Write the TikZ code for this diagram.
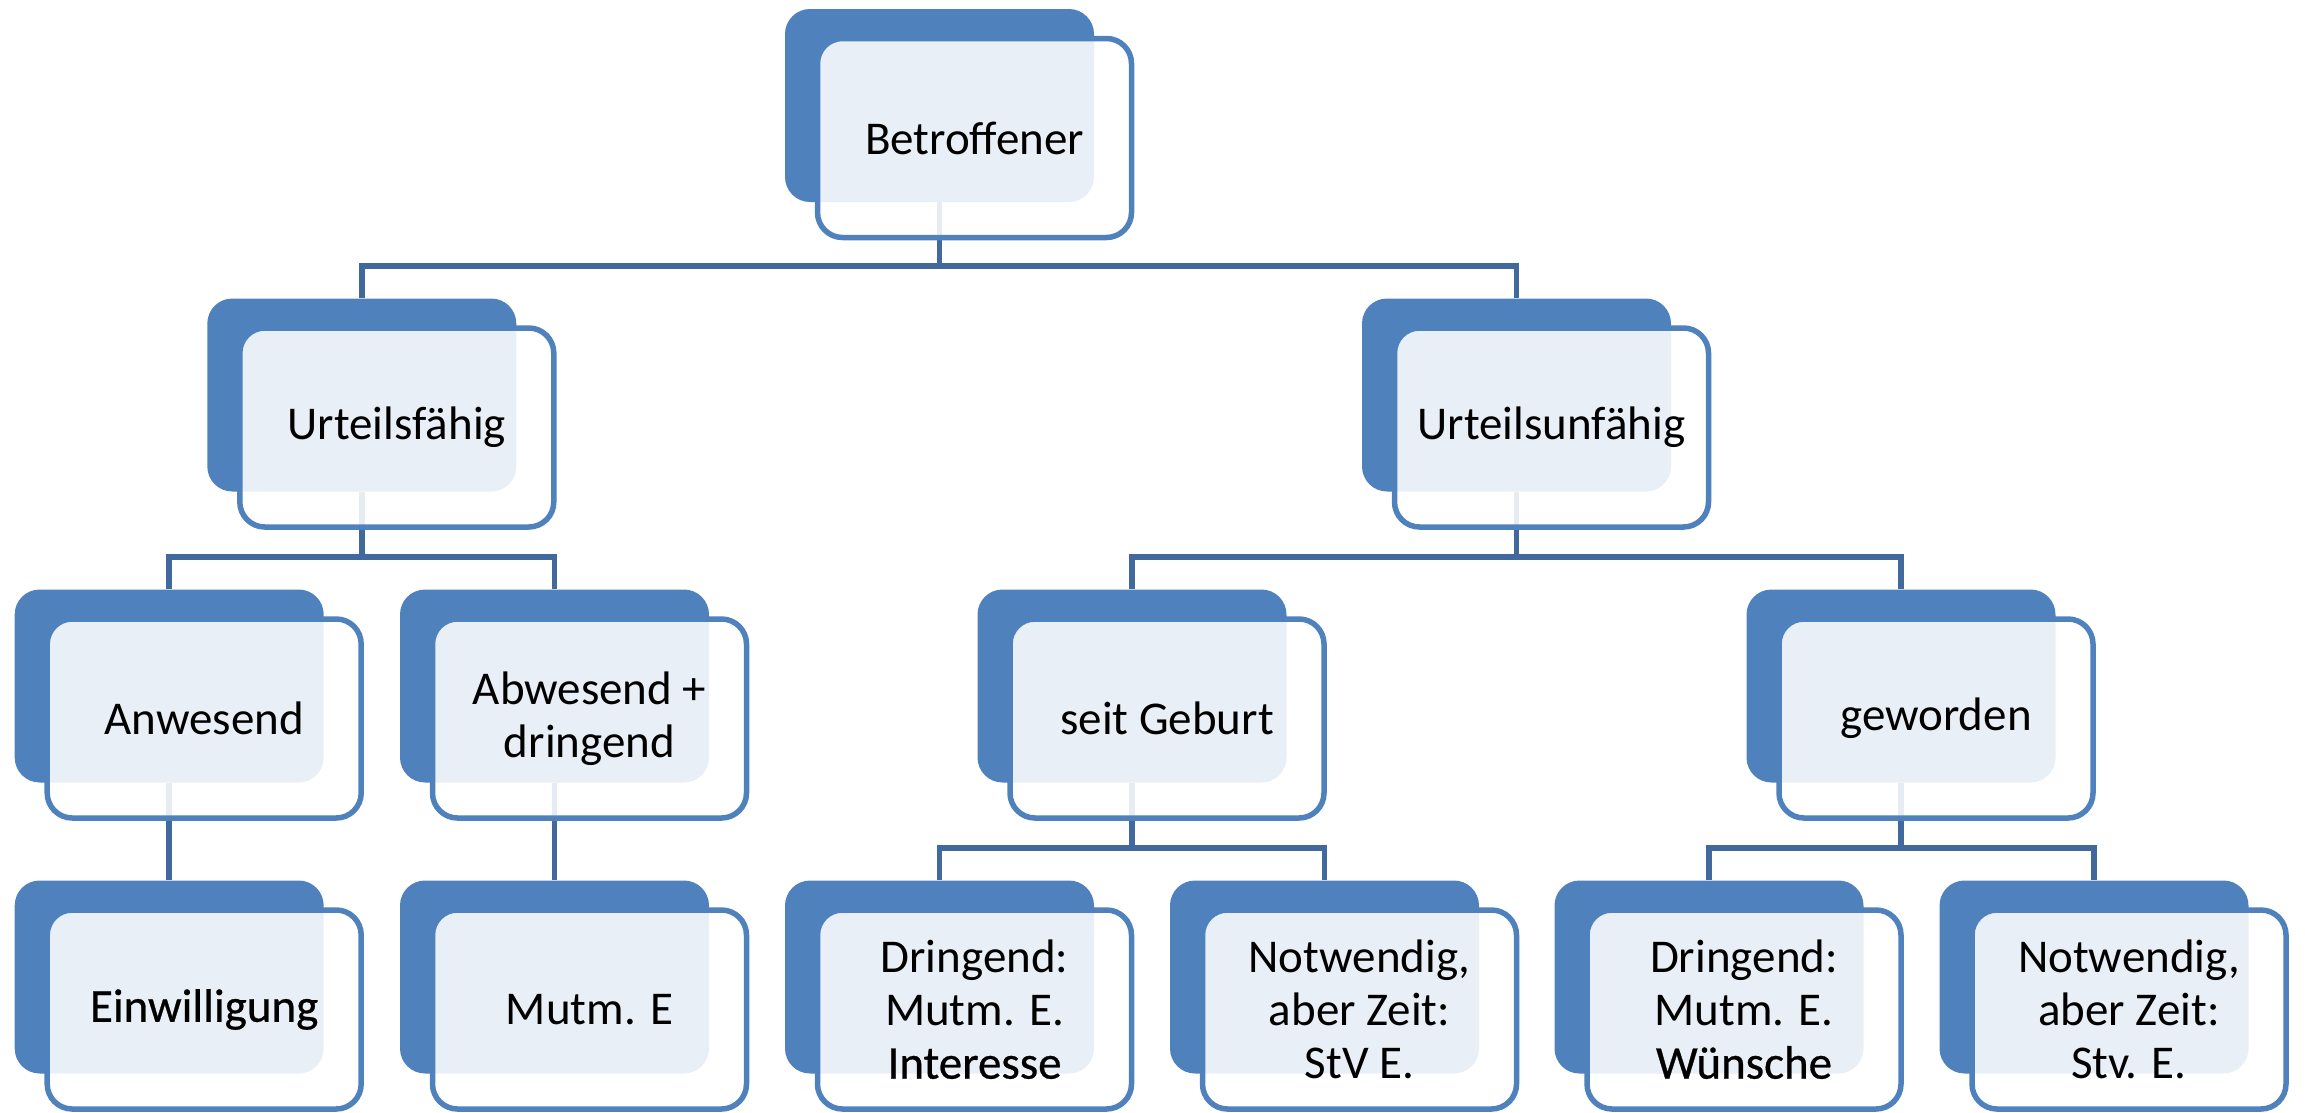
\documentclass[tikz,border=0pt]{standalone}
\usepackage{fontspec}
\setmainfont{Carlito}
\newfontfamily\strongf[FakeBold=0.6]{Carlito}
\definecolor{acc}{HTML}{4F81BD}
\definecolor{lnk}{HTML}{41699D}
\pgfdeclarelayer{bg}
\pgfsetlayers{bg,main}
\tikzset{
 backbox/.style={fill=acc, rounded corners=25pt, minimum width=309pt, minimum height=193pt, inner sep=0pt},
 frontbox/.style={draw=acc, line width=5.5pt, fill=white, fill opacity=0.88, text opacity=1, rounded corners=25pt, minimum width=314pt, minimum height=199pt, inner sep=0pt, align=center, font=\fontsize{47}{53}\selectfont, text=black},
 conn/.style={draw=lnk, line width=5.5pt}
}
\newcommand\pairnode[4]{%
 \node[backbox] (b#1) at (#2+154.5,#3+96.5) {};
 \node[frontbox] (#1) at (#2+189.5,#3+129) {#4};
}
\begin{document}
\begin{tikzpicture}[x=1pt,y=-1pt]
\useasboundingbox (0,0) rectangle (2305,1112);
\pairnode{top}{785}{9}{Betroffener}
\pairnode{ufa}{207.3}{298.5}{Urteilsfähig}
\pairnode{uun}{1362}{298.5}{Urteilsunfähig}
\pairnode{anw}{14.7}{589.5}{Anwesend}
\pairnode{abw}{400}{589.5}{Abwesend +\\dringend}
\pairnode{geb}{977.5}{589.5}{seit Geburt}
\pairnode{gew}{1746.5}{589.5}{geworden}
\pairnode{ein}{14.7}{880.5}{{\strongf Einwilligung}}
\pairnode{mut}{400}{880.5}{Mutm. E}
\pairnode{dra}{785}{880.5}{Dringend:\\Mutm. E.\\{\strongf Interesse}}
\pairnode{nwa}{1170}{880.5}{Notwendig,\\aber Zeit:\\StV E.}
\pairnode{drb}{1554.5}{880.5}{Dringend:\\Mutm. E.\\{\strongf Wünsche}}
\pairnode{nwb}{1939.5}{880.5}{Notwendig,\\aber Zeit:\\Stv. E.}
\coordinate (bar1) at (0,266);
\coordinate (bar2) at (0,557);
\coordinate (bar3) at (0,848);
\begin{pgfonlayer}{bg}
\foreach \p/\c/\b in {top/ufa/bar1, top/uun/bar1,
  ufa/anw/bar2, ufa/abw/bar2, uun/geb/bar2, uun/gew/bar2,
  anw/ein/bar3, abw/mut/bar3, geb/dra/bar3, geb/nwa/bar3, gew/drb/bar3, gew/nwb/bar3}
  \draw[conn] (b\p.south) -- (b\p.south |- \b) -| (b\c.north);
\end{pgfonlayer}
\end{tikzpicture}
\end{document}
